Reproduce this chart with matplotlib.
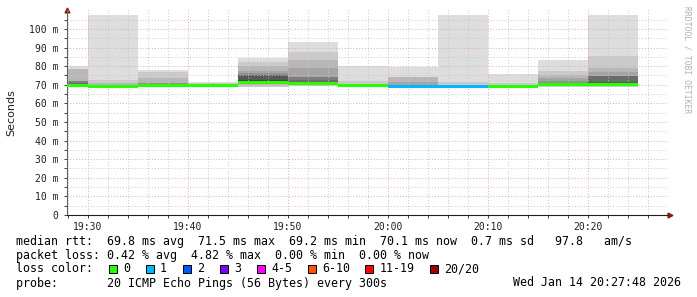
import matplotlib
matplotlib.use("Agg")
import matplotlib.pyplot as plt
from matplotlib.patches import Rectangle

# 5 minute steps, 20 pings each (sorted rtt in ms)
bar_start = ["19:25", "19:30", "19:35", "19:40", "19:45", "19:50",
             "19:55", "20:00", "20:05", "20:10", "20:15", "20:20"]
pings = [
    [69.0, 69.1, 69.2, 69.3, 69.4, 69.4, 69.4, 69.5, 69.5, 69.6, 69.8, 70.0, 70.5, 70.8, 72.0, 72.0, 72.0, 78.3, 78.3, 80.1],
    [68.5, 68.6, 68.7, 68.8, 68.8, 68.9, 68.9, 69.0, 69.0, 69.0, 69.1, 69.1, 69.2, 69.3, 69.4, 69.6, 70.0, 71.0, 72.7, 107.5],
    [69.0, 69.1, 69.2, 69.3, 69.4, 69.4, 69.5, 69.5, 69.6, 69.6, 69.6, 69.7, 69.8, 70.0, 70.1, 71.0, 71.0, 73.7, 76.9, 78.0],
    [69.0, 69.1, 69.2, 69.2, 69.3, 69.3, 69.4, 69.4, 69.5, 69.5, 69.5, 69.6, 69.6, 69.7, 69.8, 69.9, 70.0, 70.3, 70.8, 71.5],
    [68.9, 69.0, 69.9, 70.3, 70.7, 71.0, 71.1, 71.2, 71.3, 71.3, 71.4, 72.6, 75.3, 75.3, 75.3, 76.2, 77.6, 80.1, 82.4, 84.6],
    [69.2, 69.4, 70.0, 70.3, 70.5, 70.6, 70.7, 70.7, 70.8, 70.8, 70.8, 71.0, 71.5, 72.6, 74.0, 74.0, 78.9, 83.3, 87.5, 93.2],
    [69.0, 69.1, 69.2, 69.3, 69.4, 69.4, 69.5, 69.5, 69.6, 69.6, 69.6, 69.7, 69.7, 69.8, 69.9, 70.0, 70.2, 70.4, 72.2, 80.1],
    [68.6, 68.7, 68.8, 68.9, 68.9, 69.0, 69.0, 69.1, 69.1, 69.2, 69.2, 69.3, 69.4, 69.5, 70.0, 70.0, 71.5, 74.2, 74.2, 79.6],
    [68.6, 68.7, 68.8, 68.9, 68.9, 69.0, 69.0, 69.1, 69.1, 69.2, 69.2, 69.3, 69.3, 69.4, 69.5, 69.6, 69.8, 70.0, 71.5, 107.5],
    [68.5, 68.6, 68.7, 68.7, 68.8, 68.8, 68.9, 68.9, 69.0, 69.0, 69.0, 69.1, 69.1, 69.2, 69.3, 69.4, 69.6, 70.0, 71.0, 75.9],
    [68.7, 68.8, 69.5, 69.8, 70.0, 70.1, 70.2, 70.3, 70.3, 70.4, 70.4, 70.6, 70.8, 71.0, 71.1, 72.0, 73.5, 75.3, 77.4, 83.3],
    [68.9, 69.0, 69.3, 69.5, 69.7, 69.8, 69.9, 69.9, 70.0, 70.0, 70.0, 70.2, 71.3, 74.7, 74.7, 74.7, 77.0, 78.9, 85.3, 107.5],
]
medians = [69.5, 69.0, 69.6, 69.5, 71.3, 70.8, 69.6, 69.2, 69.2, 69.0, 70.4, 70.0]
loss = [0, 0, 0, 0, 0, 0, 0, 1, 1, 0, 0, 0]

loss_labels = ["0", "1", "2", "3", "4-5", "6-10", "11-19", "20/20"]
loss_colors = ["#26ff00", "#00b8ff", "#0059ff", "#7e00ff", "#ff00ff", "#ff5500", "#ff0000", "#a10000"]
loss_upper = [0, 1, 2, 3, 5, 10, 19, 20]

time_ticks = ["19:30", "19:40", "19:50", "20:00", "20:10", "20:20"]
y_ticks = [0, 10, 20, 30, 40, 50, 60, 70, 80, 90, 100]

stats_rtt = ["69.8 ms avg", "71.5 ms max", "69.2 ms min", "70.1 ms now", "0.7 ms sd", " 97.8   am/s"]
stats_loss = ["0.42 % avg", "4.82 % max", "0.00 % min", "0.00 % now"]
probe_text = "20 ICMP Echo Pings (56 Bytes) every 300s"
stamp_text = "Wed Jan 14 20:27:48 2026"


def minutes(t):
    h, m = t.split(":")
    return (int(h) - 19) * 60 + int(m) - 30


plt.rcParams['font.family'] = ['DejaVu Sans Mono']

W, H = 697, 297
fig = plt.figure(figsize=(W / 100, H / 100), dpi=100)
fig.patch.set_facecolor("white")
ax = fig.add_axes([67 / W, 1 - 215 / H, 601 / W, 205 / H])

# smoke: band between ping i and ping 21-i, darker towards the middle
for start, p in zip(bar_start, pings):
    x0 = minutes(start)
    for i in range(10):
        g = int(190 / 10 * (10 - (i + 1))) + 50
        ax.bar(x0, p[19 - i] - p[i], bottom=p[i], width=5, align="edge",
               color="#%02x%02x%02x" % (g, g, g), linewidth=0, zorder=1)

# median, coloured by loss
for start, med, lo in zip(bar_start, medians, loss):
    x0 = minutes(start)
    idx = next(k for k, u in enumerate(loss_upper) if lo <= u)
    ax.fill_between([x0, x0 + 5], med - 0.8, med + 0.8, color=loss_colors[idx],
                    linewidth=0, zorder=3)

ax.set_xlim(-2.1, 58)
ax.set_ylim(0, 110.2)
ax.set_xticks([minutes(t) for t in time_ticks])
ax.set_xticklabels(time_ticks)
ax.set_xticks(range(-2, 58, 2), minor=True)
ax.set_yticks(y_ticks)
ax.set_yticklabels(["0" if v == 0 else "%d m" % v for v in y_ticks])
ax.set_yticks(range(5, 110, 10), minor=True)

ax.set_axisbelow(False)
ax.grid(which="minor", color="#c8c8c8", linestyle=(0, (1, 2)), linewidth=0.7)
ax.grid(which="major", color="#e8a8a8", linestyle=(0, (1, 2)), linewidth=0.7)

for s in ["top", "right"]:
    ax.spines[s].set_visible(False)
ax.spines["left"].set_color("#606060")
ax.spines["bottom"].set_color("#202020")
ax.spines["left"].set_linewidth(0.8)
ax.spines["bottom"].set_linewidth(0.8)
ax.tick_params(which="both", labelsize=7, colors="#202020", length=2, width=0.6)
ax.tick_params(axis="y", pad=4)
ax.tick_params(axis="x", pad=3)

ax.plot([0], [1.0], marker="^", color="#8b1a1a", ms=3.5, transform=ax.transAxes, clip_on=False)
ax.plot([1.004], [0], marker=">", color="#8b1a1a", ms=3.5, transform=ax.transAxes, clip_on=False)

fig.text(11 / W, 1 - 113 / H, "Seconds", rotation=90, ha="center", va="center",
         fontsize=8, family="DejaVu Sans", color="#202020")
fig.text(687 / W, 1 - 60 / H, "RRDTOOL / TOBI OETIKER", rotation=270, ha="center",
         va="center", fontsize=5.8, color="#b0b0b0")

FS = 8.37


def txt(x, y, s, **kw):
    fig.text(x / W, 1 - y / H, s, va="center", fontsize=FS, color="#000000", **kw)


y1, y2, y3, y4 = 241.3, 255.3, 268.8, 283
txt(16, y1, "median rtt:  " + "  ".join(stats_rtt))
txt(16, y2, "packet loss: " + "  ".join(stats_loss))
txt(16, y3, "loss color:")
box_x = [108.7, 145.7, 182.7, 220, 256.9, 308, 365.3, 430]
for bx, lab, col in zip(box_x, loss_labels, loss_colors):
    fig.patches.append(Rectangle((bx / W, 1 - (y3 + 4.3) / H), 8 / W, 8.6 / H,
                                 transform=fig.transFigure, facecolor=col,
                                 edgecolor="black", linewidth=0.7))
    txt(bx + 14.3, y3, lab)
txt(16, y4, "probe:       " + probe_text)
fig.text(681 / W, 1 - y4 / H, stamp_text, ha="right", va="center", fontsize=FS, color="#000000")

fig.savefig("out.png", dpi=100)
